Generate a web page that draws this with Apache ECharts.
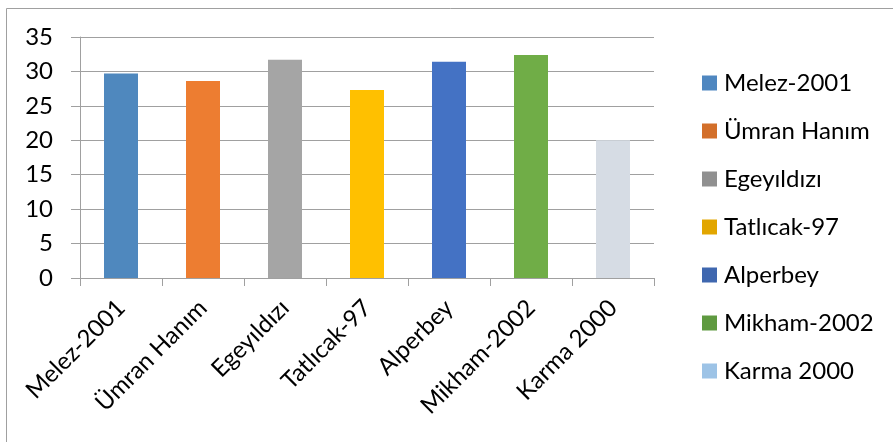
<!DOCTYPE html>
<html>
<head>
<meta charset="utf-8">
<script src="https://cdn.jsdelivr.net/npm/echarts@6/dist/echarts.min.js"></script>
<style>
html,body{margin:0;padding:0;background:#fff;}
#chart{width:893px;height:442px;}
</style>
</head>
<body>
<div id="chart"></div>
<script>
const categories = ["Melez-2001", "Ümran Hanım", "Egeyıldızı", "Tatlıcak-97", "Alperbey", "Mikham-2002", "Karma 2000"];
const values = [29.7, 28.6, 31.7, 27.3, 31.4, 32.4, 20.0];
const yTicks = [0, 35, 5]; // min, max, step
const barColors = ["#4F88BE", "#ED7D31", "#A5A5A5", "#FFC000", "#4472C4", "#70AD47", "#D6DCE4"];
const legendColors = ["#4F87C0", "#D36F2A", "#909090", "#E2A600", "#3F67AF", "#5F9A40", "#9DC3E6"];

const FONT = "Lato";
const GRAY = "#A0A0A0";

const series = categories.map(function (name, i) {
  const d = categories.map(function (_, j) { return j === i ? values[i] : null; });
  return {
    name: name,
    type: "bar",
    stack: "all",
    barWidth: 34,
    data: d,
    itemStyle: { color: barColors[i] },
    emphasis: { disabled: true }
  };
});

const chart = echarts.init(document.getElementById("chart"), null, { renderer: "canvas" });
chart.setOption({
  animation: false,
  backgroundColor: "#fff",
  textStyle: { fontFamily: FONT, color: "#000" },
  graphic: [{
    type: "rect",
    shape: { x: 6.5, y: 8.5, width: 1000, height: 1000 },
    style: { fill: "none", stroke: GRAY, lineWidth: 1 },
    silent: true
  }],
  grid: { left: 80, right: 239, top: 37, bottom: 164, containLabel: false },
  legend: {
    orient: "vertical",
    left: 697,
    top: 66,
    itemWidth: 15,
    itemHeight: 15,
    itemGap: 24,
    icon: "rect",
    textStyle: { fontFamily: FONT, fontSize: 24, color: "#000", lineHeight: 24, padding: [0, 0, 0, 2] },
    data: categories.map(function (c, i) { return { name: c, itemStyle: { color: legendColors[i] } }; })
  },
  xAxis: {
    type: "category",
    data: categories,
    boundaryGap: true,
    axisLine: { show: true, lineStyle: { color: GRAY, width: 1 } },
    axisTick: { show: true, length: 8, lineStyle: { color: GRAY } },
    axisLabel: { interval: 0, rotate: 45, fontFamily: FONT, fontSize: 24, color: "#000", margin: 26 }
  },
  yAxis: {
    type: "value",
    min: yTicks[0],
    max: yTicks[1],
    interval: yTicks[2],
    axisLine: { show: true, lineStyle: { color: GRAY, width: 1 } },
    axisTick: { show: true, length: 9, lineStyle: { color: GRAY } },
    splitLine: { show: true, lineStyle: { color: GRAY, width: 1 } },
    axisLabel: { fontFamily: FONT, fontSize: 24, color: "#000", margin: 27 }
  },
  series: series
});
</script>
</body>
</html>
